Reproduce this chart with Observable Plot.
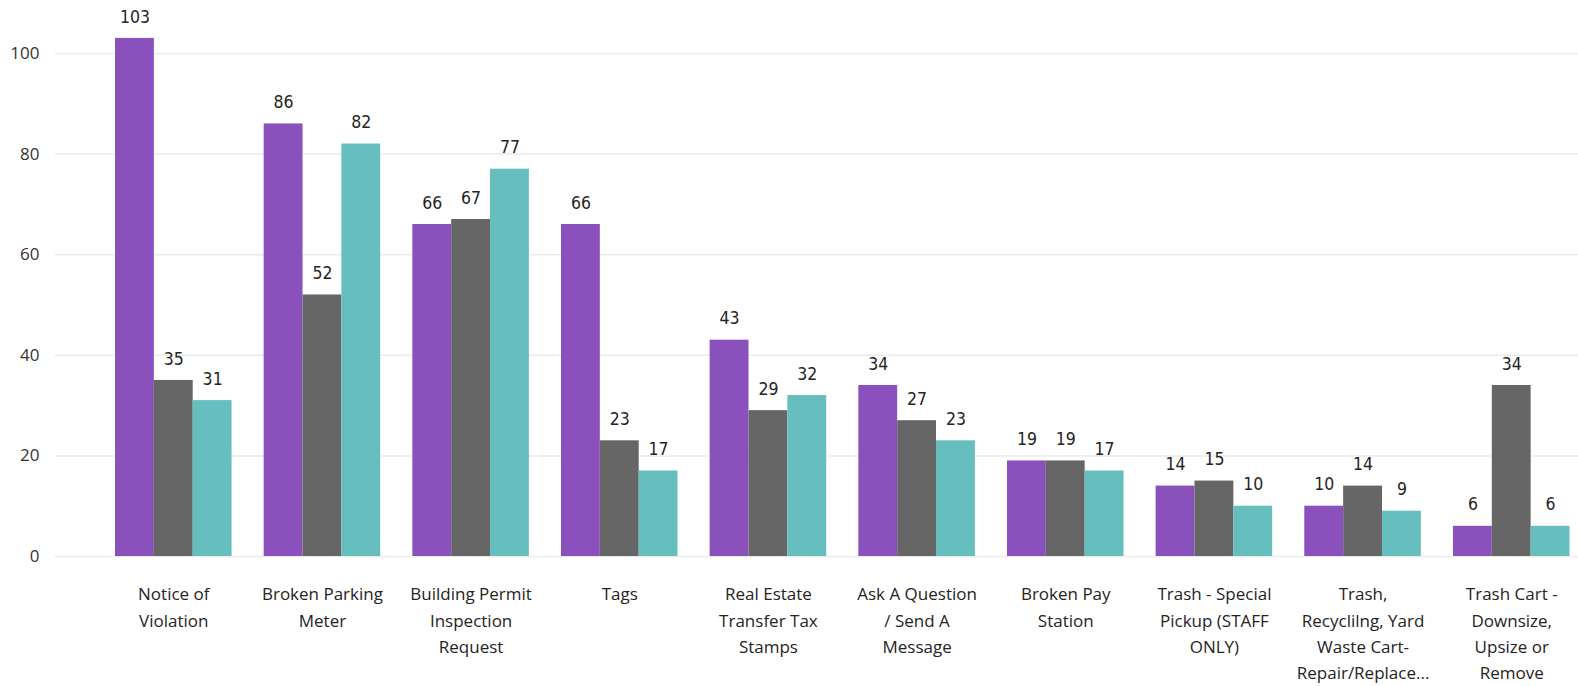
<!DOCTYPE html>
<html>
<head>
<meta charset="utf-8">
<script src="https://cdn.jsdelivr.net/npm/d3@7"></script>
<script src="https://cdn.jsdelivr.net/npm/@observablehq/plot@0.6"></script>
<style>
  html, body { margin: 0; padding: 0; background: #fff; overflow: hidden; }
  #chart svg { display: block; }
</style>
</head>
<body>
<div id="chart"></div>
<script>
const categories = [
  "Notice of\nViolation",
  "Broken Parking\nMeter",
  "Building Permit\nInspection\nRequest",
  "Tags",
  "Real Estate\nTransfer Tax\nStamps",
  "Ask A Question\n/ Send A\nMessage",
  "Broken Pay\nStation",
  "Trash - Special\nPickup (STAFF\nONLY)",
  "Trash,\nRecyclilng, Yard\nWaste Cart-\nRepair/Replace...",
  "Trash Cart -\nDownsize,\nUpsize or\nRemove"
];
const seriesNames = ["Series A", "Series B", "Series C"];
const seriesA = [103, 86, 66, 66, 43, 34, 19, 14, 10, 6];
const seriesB = [35, 52, 67, 23, 29, 27, 19, 15, 14, 34];
const seriesC = [31, 82, 77, 17, 32, 23, 17, 10, 9, 6];
const colors = ["#8A51BC", "#666666", "#67BEBE"];
const yTicks = [0, 20, 40, 60, 80, 100];

const W = 1578, H = 686;
const mL = 55, mR = 0, mT = 53, mB = 130;
const xOpts = {domain: categories, paddingInner: 0.216, paddingOuter: 0.2304, align: 0.876, round: false};

// bandwidth of the category band scale, to split each band into three bars
const band = d3.scaleBand(categories, [mL, W - mR])
  .paddingInner(xOpts.paddingInner).paddingOuter(xOpts.paddingOuter).align(xOpts.align);
const bw = band.bandwidth();
const sub = bw / 3;

const allSeries = [seriesA, seriesB, seriesC];
const seriesData = allSeries.map((s, j) =>
  categories.map((c, i) => ({category: c, series: seriesNames[j], value: s[i]})));

const labelFont = "'DejaVu Sans Condensed', 'Roboto', sans-serif";

const barMarks = seriesData.flatMap((d, j) => [
  Plot.barY(d, {
    x: "category", y: "value", fill: colors[j],
    insetLeft: j * sub, insetRight: (2 - j) * sub
  }),
  Plot.text(d, {
    x: "category", y: "value", text: d => String(d.value),
    dx: (j - 1) * sub, dy: -21.5, fontSize: 17.5, fill: "#252423",
    fontFamily: labelFont, fontWeight: 500
  })
]);

const chart = Plot.plot({
  width: W,
  height: H,
  marginLeft: mL,
  marginRight: mR,
  marginTop: mT,
  marginBottom: mB,
  style: {fontFamily: "'Open Sans', 'Noto Sans', sans-serif", background: "#fff"},
  x: {...xOpts, axis: null},
  y: {domain: [0, 100], axis: null},
  marks: [
    Plot.ruleY(yTicks, {stroke: "#ebebeb", strokeWidth: 1.5}),
    Plot.axisY(yTicks, {tickSize: 0, tickPadding: 16, fontSize: 17, fill: "#333", label: null}),
    Plot.axisX(categories, {tickSize: 0, tickPadding: 25, fontSize: 17, fill: "#252423", lineHeight: 1.55, lineAnchor: "top", label: null}),
    ...barMarks
  ]
});
document.getElementById("chart").appendChild(chart);
</script>
</body>
</html>
